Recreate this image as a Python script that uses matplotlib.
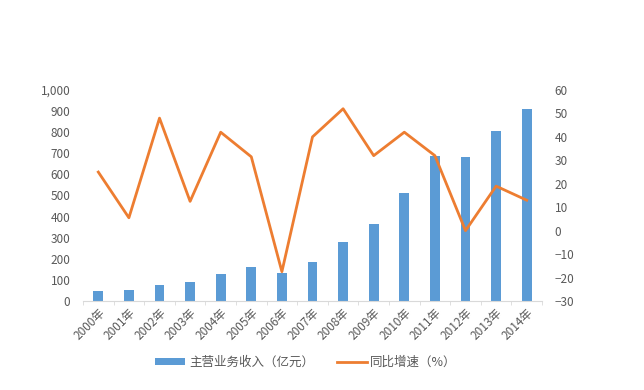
import matplotlib.pyplot as plt
import numpy as np

plt.rcParams['font.family'] = ['Noto Sans CJK SC', 'DejaVu Sans']

# data
years = ["2000年", "2001年", "2002年", "2003年", "2004年", "2005年", "2006年", "2007年",
         "2008年", "2009年", "2010年", "2011年", "2012年", "2013年", "2014年"]
revenue = [48, 52, 76, 90, 128, 161, 135, 185, 280, 365, 512, 687, 682, 806, 910]
growth = [25, 5.5, 48, 12.5, 42, 31.5, -17.5, 40, 52, 32, 42, 32, 0, 19, 13]

bar_color = "#5B9BD5"
line_color = "#ED7D31"
text_color = "#595959"

fig = plt.figure(figsize=(6.44, 3.90), dpi=100)
ax = fig.add_axes([83 / 644, 1 - 301 / 390, 459 / 644, 211 / 390])
ax2 = ax.twinx()

x = np.arange(len(years))
bars = ax.bar(x, revenue, width=0.32, color=bar_color, label="主营业务收入（亿元）", zorder=2)
line, = ax2.plot(x, growth, color=line_color, linewidth=2.0, label="同比增速（%）", zorder=3)

ax.set_xlim(-0.5, len(years) - 0.5)
ax.set_ylim(0, 1000)
ax.set_yticks(np.arange(0, 1001, 100))
ax.set_yticklabels([f"{v:,}" for v in range(0, 1001, 100)])
ax2.set_ylim(-30, 60)
ax2.set_yticks(np.arange(-30, 61, 10))

ax.set_xticks(x)
ax.set_xticklabels(years, rotation=45, ha="right", rotation_mode="anchor")
ax.set_xticks(np.arange(-0.5, len(years), 1), minor=True)

for a in (ax, ax2):
    for s in ("top", "left", "right", "bottom"):
        a.spines[s].set_visible(False)
    a.tick_params(axis="y", length=0, labelsize=8.5, labelcolor=text_color, pad=9)

ax.spines["bottom"].set_visible(True)
ax.spines["bottom"].set_color("#D9D9D9")
ax.tick_params(axis="x", which="major", length=0, labelsize=8.5, labelcolor=text_color, pad=4)
ax.tick_params(axis="x", which="minor", length=3, color="#D9D9D9")

ax2.set_zorder(ax.get_zorder() + 1)
ax2.patch.set_visible(False)

fig.legend([bars, line], ["主营业务收入（亿元）", "同比增速（%）"], loc="center",
           bbox_to_anchor=(306 / 644, 1 - 362 / 390), ncol=2, frameon=False,
           fontsize=9, labelcolor=text_color, handlelength=2.4, handleheight=0.5,
           columnspacing=1.8, handletextpad=0.3)

plt.savefig("out.png", dpi=100)
